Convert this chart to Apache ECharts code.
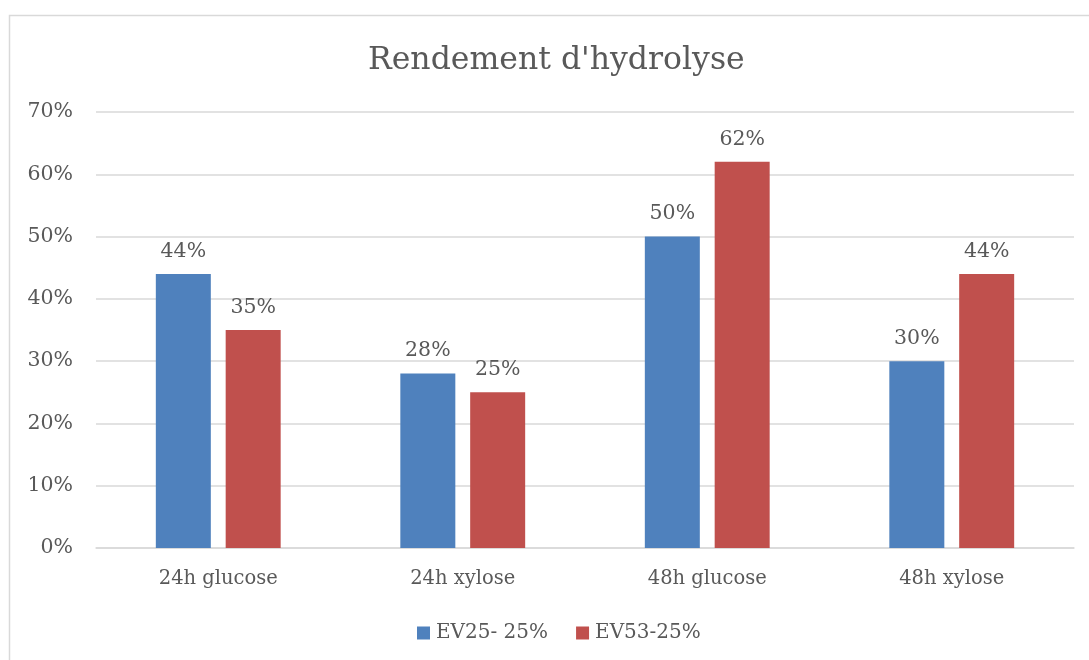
<!DOCTYPE html>
<html>
<head>
<meta charset="utf-8">
<script src="https://cdn.jsdelivr.net/npm/echarts@6/dist/echarts.min.js"></script>
<style>
  html, body { margin: 0; padding: 0; background: #fff; }
  #chart { width: 1089px; height: 660px; }
</style>
</head>
<body>
<div id="chart"></div>
<script>
// Hydrolysis yield per sample and sugar
const categories = ['24h glucose', '24h xylose', '48h glucose', '48h xylose'];
const seriesNames = ['EV25- 25%', 'EV53-25%'];
const ev25 = [44, 28, 50, 30];
const ev53 = [35, 25, 62, 44];
const yTicks = [0, 10, 20, 30, 40, 50, 60, 70];

const FONT = '"DejaVu Serif", "Liberation Serif", serif';
const TEXT = '#595959';

const chart = echarts.init(document.getElementById('chart'));
chart.setOption({
  animation: false,
  backgroundColor: '#ffffff',
  textStyle: { fontFamily: FONT, color: TEXT },
  title: {
    text: "Rendement d'hydrolyse",
    left: 363,
    top: 40,
    textStyle: { fontFamily: FONT, fontSize: 31.5, fontWeight: 'normal', color: TEXT }
  },
  graphic: [{
    type: 'rect',
    shape: { x: 9.5, y: 15.5, width: 1100, height: 700 },
    style: { fill: 'none', stroke: '#d9d9d9', lineWidth: 1.5 },
    silent: true
  }],
  legend: {
    bottom: 12,
    left: 412,
    itemWidth: 13,
    itemHeight: 13,
    itemGap: 28,
    icon: 'rect',
    textStyle: { fontFamily: FONT, fontSize: 20, color: TEXT, padding: [0, 0, 0, 1] },
    data: seriesNames
  },
  grid: { left: 96, right: 15, top: 112, bottom: 112, containLabel: false },
  xAxis: {
    type: 'category',
    data: categories,
    axisLine: { lineStyle: { color: '#d9d9d9', width: 1.5 } },
    axisTick: { show: false },
    axisLabel: { fontFamily: FONT, fontSize: 19.5, color: TEXT, margin: 21 }
  },
  yAxis: {
    type: 'value',
    min: yTicks[0],
    max: yTicks[yTicks.length - 1],
    interval: 10,
    axisLine: { show: false },
    axisTick: { show: false },
    splitLine: { lineStyle: { color: '#d9d9d9', width: 1.5 } },
    axisLabel: { fontFamily: FONT, fontSize: 20.5, color: TEXT, margin: 23, formatter: v => v + '%' }
  },
  series: [
    {
      name: seriesNames[0],
      type: 'bar',
      data: ev25,
      barWidth: 55,
      barGap: '27%',
      itemStyle: { color: '#4f81bd' },
      label: { show: true, position: 'top', distance: 12, fontFamily: FONT, fontSize: 20.5, color: TEXT, formatter: p => p.value + '%' }
    },
    {
      name: seriesNames[1],
      type: 'bar',
      data: ev53,
      barWidth: 55,
      itemStyle: { color: '#c0504d' },
      label: { show: true, position: 'top', distance: 12, fontFamily: FONT, fontSize: 20.5, color: TEXT, formatter: p => p.value + '%' }
    }
  ]
});
</script>
</body>
</html>
